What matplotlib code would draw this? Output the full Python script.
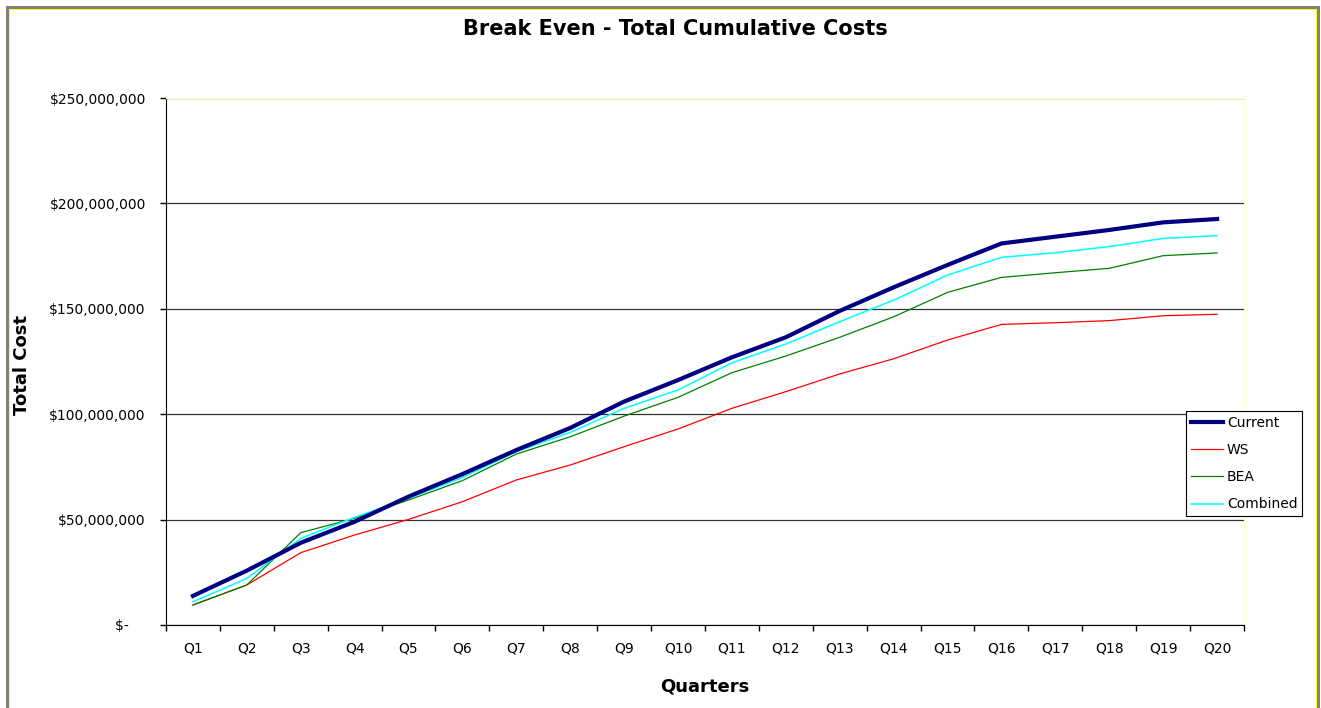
import matplotlib.pyplot as plt
from matplotlib.patches import Rectangle
from matplotlib.ticker import FuncFormatter, MultipleLocator
import numpy as np

plt.rcParams['font.family'] = ['DejaVu Sans']

# Dados (milhões de dólares, acumulado por trimestre)
quarters = ["Q%d" % i for i in range(1, 21)]
current = [13.8, 25.8, 39.0, 49.0, 60.9, 71.6, 83.0, 93.5, 106.0, 116.2,
           127.0, 136.5, 149.0, 160.2, 170.8, 181.0, 184.2, 187.4, 191.0, 192.6]
ws = [9.5, 19.0, 34.3, 42.7, 50.1, 58.5, 68.8, 75.9, 84.6, 93.0,
      102.8, 110.7, 119.1, 126.3, 135.2, 142.6, 143.4, 144.4, 146.7, 147.4]
bea = [9.5, 19.0, 43.8, 50.6, 59.3, 68.5, 81.1, 89.3, 99.1, 108.0,
       119.7, 127.6, 136.5, 146.2, 157.8, 164.9, 167.1, 169.2, 175.2, 176.5]
combined = [11.0, 22.1, 41.1, 51.1, 60.1, 70.0, 82.2, 91.4, 102.8, 111.5,
            124.4, 133.3, 143.9, 154.1, 166.0, 174.4, 176.6, 179.5, 183.4, 184.7]

fig = plt.figure(figsize=(13.21, 7.08), dpi=100)
ax = fig.add_axes([166/1321, 83/708, 1078/1321, 527/708])

x = np.arange(len(quarters))
ax.plot(x, np.array(current) * 1e6, color='#000080', lw=3, label='Current', zorder=5)
ax.plot(x, np.array(ws) * 1e6, color='#FF0000', lw=0.9, label='WS', zorder=4)
ax.plot(x, np.array(bea) * 1e6, color='#008000', lw=0.9, label='BEA', zorder=4)
ax.plot(x, np.array(combined) * 1e6, color='#00FFFF', lw=1.1, label='Combined', zorder=4)

ax.set_xlim(-0.5, len(quarters) - 0.5)
ax.set_ylim(0, 250e6)

# eixo y
ax.yaxis.set_major_locator(MultipleLocator(50e6))
def fmt(v, pos):
    if v == 0:
        return "$-    "
    return "${:,.0f}".format(v)
ax.yaxis.set_major_formatter(FuncFormatter(fmt))
ax.tick_params(axis='y', direction='out', length=4.5, width=1, labelsize=10, pad=10)
ax.grid(axis='y', color='#333333', lw=0.9)
ax.set_axisbelow(True)

# eixo x: marcas nas divisas, rótulos no centro
ax.set_xticks(np.arange(-0.5, len(quarters), 1))
ax.set_xticklabels([])
ax.set_xticks(x, minor=True)
ax.set_xticklabels(quarters, minor=True)
ax.tick_params(axis='x', which='major', direction='out', length=4.5, width=1)
ax.tick_params(axis='x', which='minor', length=0, labelsize=10, pad=12)

ax.spines['top'].set_color('#FFFFCC')
ax.spines['right'].set_color('#FFFFCC')
ax.spines['left'].set_color('black')
ax.spines['bottom'].set_color('black')

fig.text(675/1321, 1 - 29/708, "Break Even - Total Cumulative Costs", ha='center', va='center',
         fontsize=15, fontweight='bold')
fig.text(22/1321, 1 - 365/708, "Total Cost", rotation=90, ha='center', va='center',
         fontsize=13, fontweight='bold')
fig.text(705/1321, 1 - 686/708, "Quarters", ha='center', va='center',
         fontsize=13, fontweight='bold')

leg = fig.legend(loc='upper left', bbox_to_anchor=(1186/1321, 1 - 411/708),
                 fancybox=False, edgecolor='black', framealpha=1, fontsize=10,
                 handlelength=2.3, handletextpad=0.3, borderpad=0.35, labelspacing=0.95,
                 borderaxespad=0)
leg.get_frame().set_linewidth(0.8)

# moldura externa (cinza + amarelo)
fig.patches.append(Rectangle((7/1321, -0.05), 1311/1321, 1.05 - 7/708,
                             transform=fig.transFigure, fill=False,
                             edgecolor='#808080', lw=2.2))
fig.patches.append(Rectangle((9/1321, -0.05), 1307/1321, 1.05 - 9/708,
                             transform=fig.transFigure, fill=False,
                             edgecolor='#FFFF00', lw=0.8))

fig.savefig("out.png", dpi=100)
